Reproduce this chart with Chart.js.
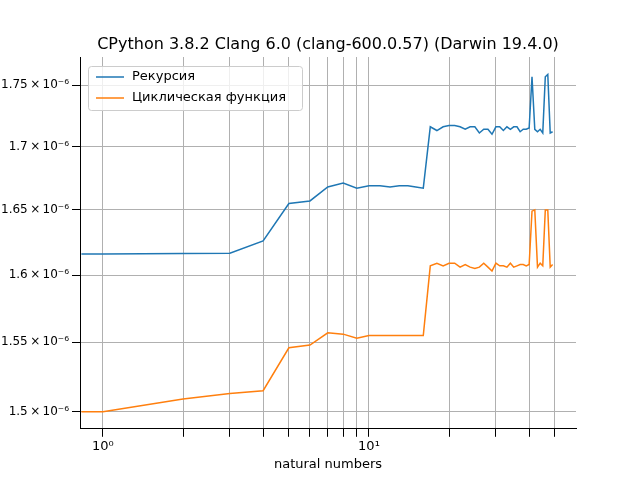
<!DOCTYPE html>
<html><head><meta charset="utf-8">
<script src="https://cdn.jsdelivr.net/npm/chart.js@4/dist/chart.umd.min.js"></script>
<style>body{margin:0;background:#fff}</style></head>
<body><canvas id="c" width="640" height="480"></canvas>
<script>
const nValues = [0.83,1,2,3,4,5,6,7,8,9,10,11,12,13,14,15,16,17,18,19,20,21,22,23,24,25,26,27,28,29,30,31,32,33,34,35,36,37,38,39,40,41,42,43,44,45,46,47,48,49];
const cyclicVals = [1.5,1.5,1.509,1.513,1.515,1.546,1.548,1.557,1.556,1.553,1.555,1.555,1.555,1.555,1.555,1.555,1.555,1.607,1.609,1.607,1.609,1.609,1.606,1.608,1.606,1.605,1.606,1.609,1.606,1.603,1.609,1.607,1.607,1.606,1.609,1.606,1.607,1.608,1.608,1.607,1.608,1.649,1.650,1.606,1.609,1.607,1.650,1.650,1.606,1.608];
const recVals = [1.616,1.616,1.6163,1.6166,1.626,1.655,1.657,1.668,1.671,1.667,1.669,1.669,1.668,1.669,1.669,1.668,1.667,1.716,1.713,1.716,1.717,1.717,1.716,1.714,1.716,1.716,1.711,1.714,1.714,1.710,1.716,1.716,1.713,1.716,1.714,1.716,1.716,1.712,1.714,1.714,1.715,1.757,1.714,1.712,1.714,1.711,1.757,1.759,1.711,1.712];
const yTicks = [1.5,1.55,1.6,1.65,1.7,1.75];
const xTicks = [1,2,3,4,5,6,7,8,9,10,20,30,40,50];
const xLabels = {1:'10⁰',10:'10¹'};
const seriesNames = ['Рекурсия','Циклическая функция'];
const titleText = 'CPython 3.8.2 Clang 6.0 (clang-600.0.57) (Darwin 19.4.0)';
const colors = ['#1f77b4','#ff7f0e'];
const mk = vals => nValues.map((n,i)=>({x:n,y:vals[i]*1e-6}));
const legendPlugin = {id:'lg',afterDraw(ch){const c=ch.ctx;const a=ch.chartArea;c.save();
 c.font='16px "DejaVu Sans"';c.fillStyle='#000';c.textAlign='center';c.textBaseline='alphabetic';c.fillText(titleText,(a.left+a.right)/2,a.top-8);
 c.textAlign='left';const x=a.left+8,y=a.top+9;c.fillStyle='rgba(255,255,255,0.8)';c.strokeStyle='#ccc';c.lineWidth=1;c.beginPath();c.roundRect(x+.5,y+.5,214,44,3);c.fill();c.stroke();c.font='13px "DejaVu Sans"';c.textBaseline='middle';seriesNames.forEach((s,i)=>{const yy=y+11+i*21;c.strokeStyle=colors[i];c.lineWidth=1.5;c.beginPath();c.moveTo(x+8,yy);c.lineTo(x+36,yy);c.stroke();c.fillStyle='#000';c.fillText(s,x+44,yy);});c.restore();}};
new Chart(document.getElementById('c'),{type:'line',
data:{datasets:[0,1].map(i=>({label:seriesNames[i],data:mk(i?cyclicVals:recVals),borderColor:colors[i],borderWidth:1.5,pointRadius:0,tension:0}))},
options:{responsive:false,animation:false,devicePixelRatio:1,
layout:{padding:{top:57,right:64,bottom:8,left:0}},
plugins:{legend:{display:false},title:{display:false},tooltip:{enabled:false}},
scales:{
x:{type:'logarithmic',min:0.82,max:60,border:{color:'#000'},grid:{color:'#b0b0b0',drawTicks:true,tickColor:'#000'},
 afterBuildTicks:a=>{a.ticks=xTicks.map(v=>({value:v}));},
 ticks:{autoSkip:false,maxRotation:0,color:'#000',padding:2,font:{family:'DejaVu Sans',size:13},callback:v=>xLabels[v]||''},
 title:{display:true,text:'natural numbers',color:'#000',font:{family:'DejaVu Sans',size:13},padding:{top:0,bottom:0}}},
y:{type:'logarithmic',min:1.488e-6,max:1.7735e-6,border:{color:'#000'},grid:{color:'#b0b0b0',tickColor:'#000'},
 afterFit:a=>{a.width=80;},
 afterBuildTicks:a=>{a.ticks=yTicks.map(v=>({value:v*1e-6}));},
 ticks:{autoSkip:false,color:'#000',padding:3,font:{family:'DejaVu Sans',size:12},callback:v=>{const m=+(v*1e6).toFixed(2);return m+'\u2009×\u200910⁻⁶';}}}
}},plugins:[legendPlugin]});
</script></body></html>
